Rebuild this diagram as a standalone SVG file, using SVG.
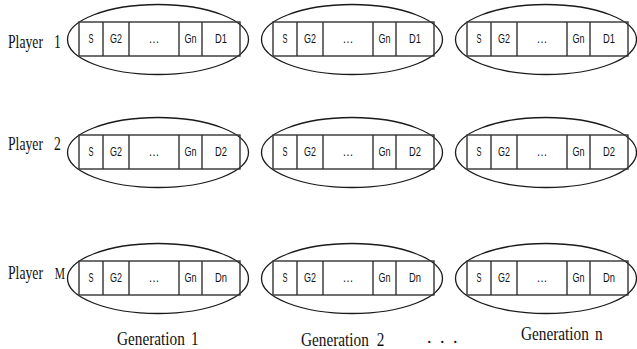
<svg xmlns="http://www.w3.org/2000/svg" xmlns:xlink="http://www.w3.org/1999/xlink" width="637" height="349" viewBox="0 0 637 349">
<style>
.ell{fill:none;stroke:#1a1a1a;stroke-width:1.3}
.box{fill:none;stroke:#333;stroke-width:1.4}
.cell{font-family:"Liberation Sans",Arial,sans-serif;font-size:13px;fill:#111;text-anchor:middle}
.lab{font-family:"Liberation Serif","Times New Roman",serif;font-size:19px;fill:#111}
.gen{font-family:"Liberation Serif","Times New Roman",serif;font-size:18px;fill:#111}
</style>
<defs>
<g id="chrom">
<ellipse class="ell" cx="79" cy="17.5" rx="90.5" ry="35"/>
<rect class="box" x="0" y="0" width="161" height="34"/>
<path class="box" d="M24 0V34M50 0V34M100 0V34M123 0V34"/>
</g>
</defs>
<rect width="637" height="349" fill="#fff"/>
<g id="labels">
<text class="lab" transform="translate(8,48) scale(0.72,1)">Player<tspan x="64">1</tspan></text>
<text class="lab" transform="translate(8,150) scale(0.72,1)">Player<tspan x="64">2</tspan></text>
<text class="lab" transform="translate(8,279) scale(0.72,1)">Player<tspan x="65" font-size="16">M</tspan></text>
<text class="gen" transform="translate(117,345) scale(0.85,1)">Generation<tspan x="87">1</tspan></text>
<text class="gen" transform="translate(301,346) scale(0.85,1)">Generation<tspan x="89">2</tspan></text>
<text class="gen" x="427" y="343">.<tspan x="440">.</tspan><tspan x="453">.</tspan></text>
<text class="gen" transform="translate(521,340) scale(0.85,1)">Generation<tspan x="87">n</tspan></text>
</g>
<g id="nodes">
<g id="p1g1" transform="translate(79,22)"><use xlink:href="#chrom"/><text class="cell" x="12" y="21" textLength="5" lengthAdjust="spacingAndGlyphs">S</text><text class="cell" x="37" y="21" textLength="12" lengthAdjust="spacingAndGlyphs">G2</text><text class="cell" x="75" y="21" textLength="11" lengthAdjust="spacingAndGlyphs">…</text><text class="cell" x="111.5" y="21" textLength="12" lengthAdjust="spacingAndGlyphs">Gn</text><text class="cell" x="142" y="21" textLength="12" lengthAdjust="spacingAndGlyphs">D1</text></g>
<g id="p1g2" transform="translate(273,22)"><use xlink:href="#chrom"/><text class="cell" x="12" y="21" textLength="5" lengthAdjust="spacingAndGlyphs">S</text><text class="cell" x="37" y="21" textLength="12" lengthAdjust="spacingAndGlyphs">G2</text><text class="cell" x="75" y="21" textLength="11" lengthAdjust="spacingAndGlyphs">…</text><text class="cell" x="111.5" y="21" textLength="12" lengthAdjust="spacingAndGlyphs">Gn</text><text class="cell" x="142" y="21" textLength="12" lengthAdjust="spacingAndGlyphs">D1</text></g>
<g id="p1gn" transform="translate(467,22)"><use xlink:href="#chrom"/><text class="cell" x="12" y="21" textLength="5" lengthAdjust="spacingAndGlyphs">S</text><text class="cell" x="37" y="21" textLength="12" lengthAdjust="spacingAndGlyphs">G2</text><text class="cell" x="75" y="21" textLength="11" lengthAdjust="spacingAndGlyphs">…</text><text class="cell" x="111.5" y="21" textLength="12" lengthAdjust="spacingAndGlyphs">Gn</text><text class="cell" x="142" y="21" textLength="12" lengthAdjust="spacingAndGlyphs">D1</text></g>
<g id="p2g1" transform="translate(79,135)"><use xlink:href="#chrom"/><text class="cell" x="12" y="21" textLength="5" lengthAdjust="spacingAndGlyphs">S</text><text class="cell" x="37" y="21" textLength="12" lengthAdjust="spacingAndGlyphs">G2</text><text class="cell" x="75" y="21" textLength="11" lengthAdjust="spacingAndGlyphs">…</text><text class="cell" x="111.5" y="21" textLength="12" lengthAdjust="spacingAndGlyphs">Gn</text><text class="cell" x="142" y="21" textLength="12" lengthAdjust="spacingAndGlyphs">D2</text></g>
<g id="p2g2" transform="translate(273,135)"><use xlink:href="#chrom"/><text class="cell" x="12" y="21" textLength="5" lengthAdjust="spacingAndGlyphs">S</text><text class="cell" x="37" y="21" textLength="12" lengthAdjust="spacingAndGlyphs">G2</text><text class="cell" x="75" y="21" textLength="11" lengthAdjust="spacingAndGlyphs">…</text><text class="cell" x="111.5" y="21" textLength="12" lengthAdjust="spacingAndGlyphs">Gn</text><text class="cell" x="142" y="21" textLength="12" lengthAdjust="spacingAndGlyphs">D2</text></g>
<g id="p2gn" transform="translate(467,135)"><use xlink:href="#chrom"/><text class="cell" x="12" y="21" textLength="5" lengthAdjust="spacingAndGlyphs">S</text><text class="cell" x="37" y="21" textLength="12" lengthAdjust="spacingAndGlyphs">G2</text><text class="cell" x="75" y="21" textLength="11" lengthAdjust="spacingAndGlyphs">…</text><text class="cell" x="111.5" y="21" textLength="12" lengthAdjust="spacingAndGlyphs">Gn</text><text class="cell" x="142" y="21" textLength="12" lengthAdjust="spacingAndGlyphs">D2</text></g>
<g id="pmg1" transform="translate(79,261)"><use xlink:href="#chrom"/><text class="cell" x="12" y="21" textLength="5" lengthAdjust="spacingAndGlyphs">S</text><text class="cell" x="37" y="21" textLength="12" lengthAdjust="spacingAndGlyphs">G2</text><text class="cell" x="75" y="21" textLength="11" lengthAdjust="spacingAndGlyphs">…</text><text class="cell" x="111.5" y="21" textLength="12" lengthAdjust="spacingAndGlyphs">Gn</text><text class="cell" x="142" y="21" textLength="12" lengthAdjust="spacingAndGlyphs">Dn</text></g>
<g id="pmg2" transform="translate(273,261)"><use xlink:href="#chrom"/><text class="cell" x="12" y="21" textLength="5" lengthAdjust="spacingAndGlyphs">S</text><text class="cell" x="37" y="21" textLength="12" lengthAdjust="spacingAndGlyphs">G2</text><text class="cell" x="75" y="21" textLength="11" lengthAdjust="spacingAndGlyphs">…</text><text class="cell" x="111.5" y="21" textLength="12" lengthAdjust="spacingAndGlyphs">Gn</text><text class="cell" x="142" y="21" textLength="12" lengthAdjust="spacingAndGlyphs">Dn</text></g>
<g id="pmgn" transform="translate(467,261)"><use xlink:href="#chrom"/><text class="cell" x="12" y="21" textLength="5" lengthAdjust="spacingAndGlyphs">S</text><text class="cell" x="37" y="21" textLength="12" lengthAdjust="spacingAndGlyphs">G2</text><text class="cell" x="75" y="21" textLength="11" lengthAdjust="spacingAndGlyphs">…</text><text class="cell" x="111.5" y="21" textLength="12" lengthAdjust="spacingAndGlyphs">Gn</text><text class="cell" x="142" y="21" textLength="12" lengthAdjust="spacingAndGlyphs">Dn</text></g>
</g>
<g id="connectors"/>
</svg>
